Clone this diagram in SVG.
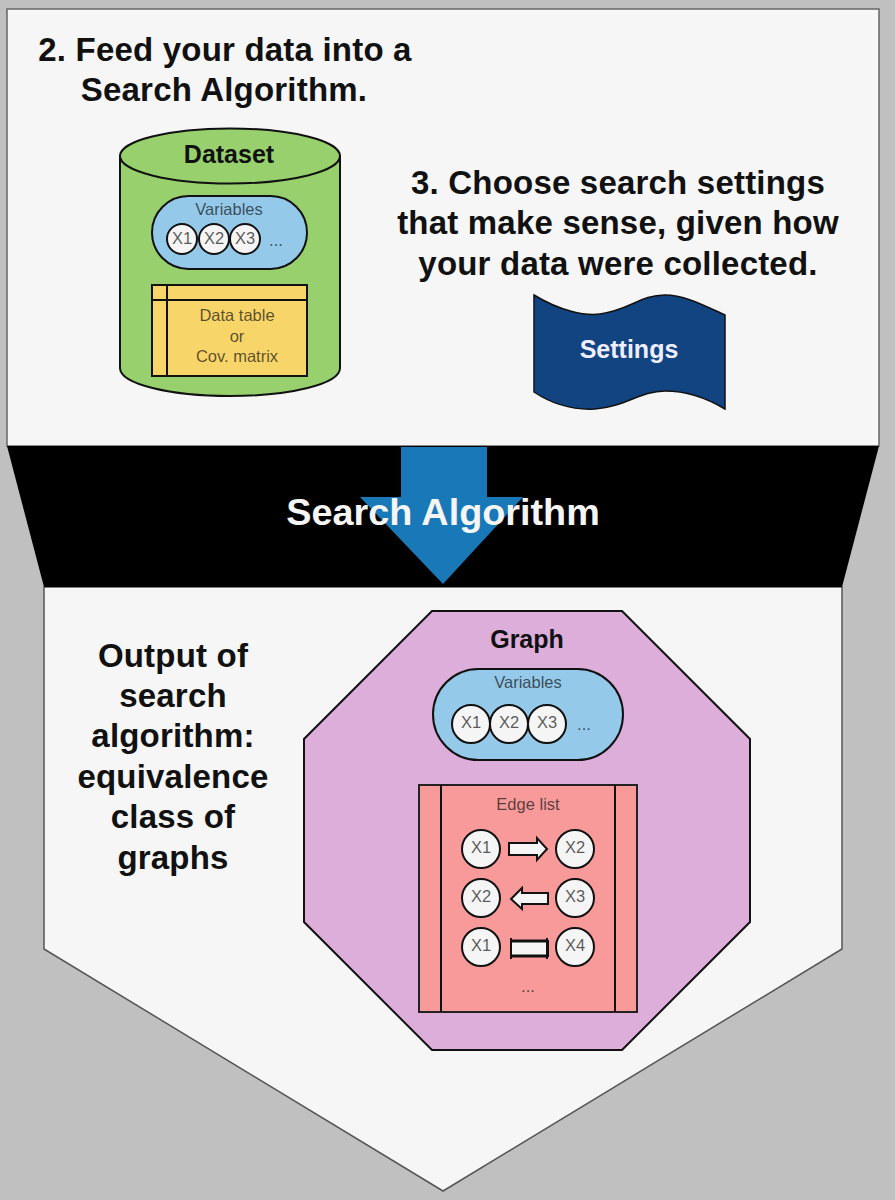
<svg xmlns="http://www.w3.org/2000/svg" width="895" height="1200" viewBox="0 0 895 1200">
<style>
text{font-family:"Liberation Sans",Arial,sans-serif;text-anchor:middle}
.h{font-size:33px;font-weight:700;fill:#111;letter-spacing:.2px}
.s{font-size:16.500px;fill:#111;fill-opacity:.7}
.c{fill:#f5f5f5;stroke:#111;stroke-width:2}
.l{fill:none;stroke:#111;stroke-width:2}
.a{fill:#f5f5f5;stroke:#111;stroke-width:2}
.t{font-size:25px;font-weight:700}
</style>
<rect width="895" height="1200" fill="#c0c0c0"/>
<g id="panel-top">
<rect x="7" y="9" width="872" height="437" fill="#f6f6f6" stroke="#666" stroke-width="1.500"/>
<text class="h" x="225" y="61">2. Feed your data into a</text>
<text class="h" x="224" y="101">Search Algorithm.</text>
<text class="h" x="618" y="194">3. Choose search settings</text>
<text class="h" x="618" y="234">that make sense, given how</text>
<text class="h" x="618" y="275">your data were collected.</text>
</g>
<g id="panel-bottom">
<path d="M44 587H842V949L443 1191L44 949Z" fill="#f6f6f6" stroke="#555" stroke-width="1.500"/>
<text class="h" x="173" y="667">Output of</text>
<text class="h" x="173" y="707">search</text>
<text class="h" x="173" y="747">algorithm:</text>
<text class="h" x="173" y="788">equivalence</text>
<text class="h" x="173" y="828">class of</text>
<text class="h" x="173" y="869">graphs</text>
</g>
<g id="search-algorithm">
<path d="M7 446H879L842 587H44Z" fill="#000"/>
<path d="M401 447H487V497H523L443 584L360 497H401Z" fill="#1878b8"/>
<text x="443" y="525" font-size="37.800" font-weight="700" fill="#f5f5f5">Search Algorithm</text>
</g>
<g id="dataset">
<path d="M120 156V368C120 384 170 396 230 396C290 396 340 384 340 368V156Z" fill="#97d06c" stroke="#111" stroke-width="2"/>
<ellipse cx="230" cy="156" rx="110" ry="27.500" fill="#97d06c" stroke="#111" stroke-width="2"/>
<text class="t" x="229" y="163" fill="#111">Dataset</text>
<rect x="152" y="196" width="155" height="73" rx="36.500" fill="#94c9ea" stroke="#111" stroke-width="2"/>
<text class="s" x="229" y="215">Variables</text>
<circle class="c" cx="182" cy="239" r="15"/><circle class="c" cx="214" cy="239" r="15"/><circle class="c" cx="245" cy="239" r="15"/>
<text class="s" x="182" y="244">X1</text><text class="s" x="214" y="244">X2</text><text class="s" x="245" y="244">X3</text>
<text class="s" x="276" y="246">...</text>
<rect x="152" y="285" width="155" height="91" fill="#f8d568" stroke="#111" stroke-width="2"/>
<path class="l" d="M152 300H307M167 285V376"/>
<text class="s" x="237" y="321">Data table</text>
<text class="s" x="237" y="342">or</text>
<text class="s" x="237" y="362">Cov. matrix</text>
</g>
<g id="settings">
<path d="M534 295C560 311 585 316 600 314C630 310 640 295 665 295C685 295 705 306 725 315V409C705 397 685 391 665 391C640 391 625 407 595 409C575 410 555 406 534 392Z" fill="#124482" stroke="#111" stroke-width="1.500"/>
<text class="t" x="629" y="358" fill="#eef">Settings</text>
</g>
<g id="graph">
<path d="M432 611H622L750 739V922L622 1050H432L304 922V739Z" fill="#deaedb" stroke="#111" stroke-width="2"/>
<text class="t" x="527" y="648" fill="#111">Graph</text>
<rect x="433" y="669" width="190" height="91" rx="45.500" fill="#94c9ea" stroke="#111" stroke-width="2"/>
<text class="s" x="528" y="688">Variables</text>
<circle class="c" cx="471" cy="724" r="19"/><circle class="c" cx="509" cy="724" r="19"/><circle class="c" cx="547" cy="724" r="19"/>
<text class="s" x="471" y="728">X1</text><text class="s" x="509" y="728">X2</text><text class="s" x="547" y="728">X3</text>
<text class="s" x="584" y="730">...</text>
<rect x="419" y="785" width="218" height="227" fill="#f89a9a" stroke="#222" stroke-width="2"/>
<path class="l" d="M441 785V1012M615 785V1012"/>
<text class="s" x="528" y="810">Edge list</text>
<circle class="c" cx="481" cy="849" r="19"/><circle class="c" cx="575" cy="849" r="19"/>
<circle class="c" cx="481" cy="898" r="19"/><circle class="c" cx="575" cy="898" r="19"/>
<circle class="c" cx="481" cy="947" r="19"/><circle class="c" cx="575" cy="947" r="19"/>
<text class="s" x="481" y="853">X1</text><text class="s" x="575" y="853">X2</text>
<text class="s" x="481" y="902">X2</text><text class="s" x="575" y="902">X3</text>
<text class="s" x="481" y="951">X1</text><text class="s" x="575" y="951">X4</text>
<path class="a" d="M509 843H537V838L547 849L537 860V855H509Z"/>
<path class="a" d="M548 893H522V888L511 899L522 909V904H548Z"/>
<path class="a" d="M511 941H548V956H511Z"/>
<path d="M510 941H548M510 956H548" fill="none" stroke="#111" stroke-width="3"/>
<path class="l" d="M511 938V959M547 938V959"/>
<text class="s" x="528" y="992">...</text>
</g>
</svg>
